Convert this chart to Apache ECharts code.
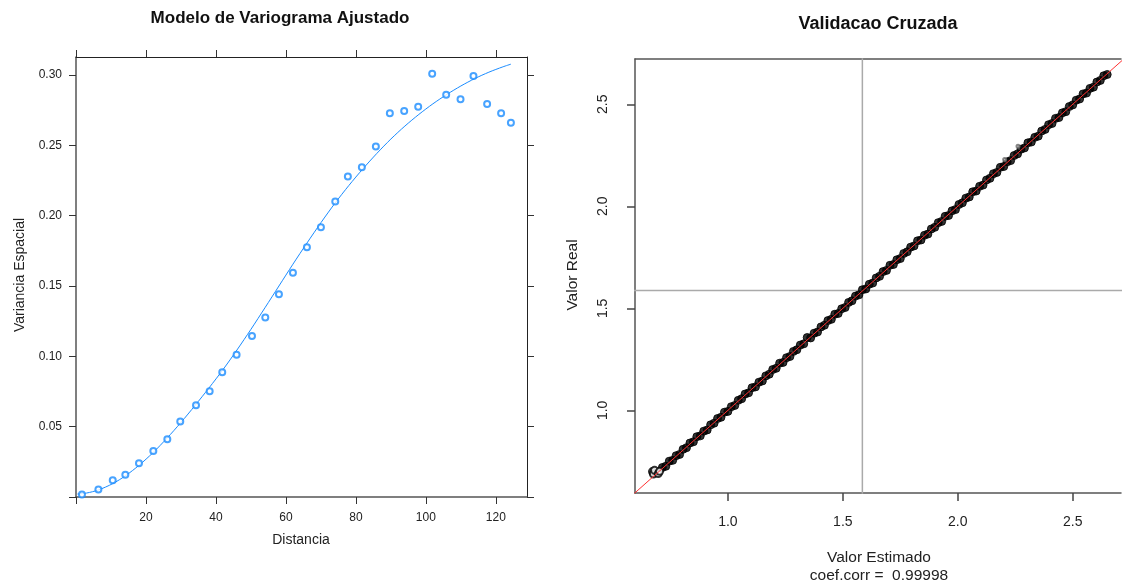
<!DOCTYPE html>
<html>
<head>
<meta charset="utf-8">
<script src="https://cdn.jsdelivr.net/npm/echarts@6/dist/echarts.min.js"></script>
<style>
  html, body { margin: 0; padding: 0; background: #fff; }
  #main { width: 1122px; height: 586px; }
</style>
</head>
<body>
<div id="main"></div>
<script>
// ---------- Left panel: experimental variogram ----------
const distances = [1.7, 6.4, 10.5, 14.1, 18.0, 22.1, 26.1, 29.8, 34.3, 38.2, 41.8, 45.9, 50.3, 54.1, 58.0,
  62.0, 66.0, 70.0, 74.1, 77.7, 81.7, 85.7, 89.7, 93.8, 97.8, 101.8, 105.8, 109.9, 113.6, 117.5, 121.5, 124.3];
const semivariance = [0.0017, 0.0053, 0.0119, 0.0159, 0.0240, 0.0327, 0.0410, 0.0536, 0.0652, 0.0751, 0.0886, 0.1011, 0.1144, 0.1276, 0.1442,
  0.1594, 0.1776, 0.1918, 0.2100, 0.2278, 0.2344, 0.2491, 0.2728, 0.2744, 0.2775, 0.3009, 0.2860, 0.2827, 0.2993, 0.2794, 0.2728, 0.2661];
// fitted model curve
const modelDist = [0.4, 3, 6.4, 10.5, 14.2, 18, 22, 26, 30, 34, 38, 42, 46, 50, 54, 58, 62, 66, 70, 74, 78, 82, 86, 90, 94, 98, 102, 106, 110, 114, 118, 122, 124.3];
const modelGamma = [0.0021, 0.0028, 0.0050, 0.0095, 0.0152, 0.0225, 0.0315, 0.0418, 0.0530, 0.0650, 0.0775, 0.0905, 0.1045, 0.1192, 0.1345, 0.1500, 0.1655, 0.1805, 0.1950, 0.2088, 0.2215, 0.2333, 0.2443, 0.2545, 0.2637, 0.2720, 0.2795, 0.2862, 0.2922, 0.2975, 0.3020, 0.3058, 0.3077];
const leftXTicks = [0, 20, 40, 60, 80, 100, 120];
const leftYTicks = [0, 0.05, 0.10, 0.15, 0.20, 0.25, 0.30];

// ---------- Right panel: cross validation ----------
const clusterEstimated = [0.672, 0.676, 0.681, 0.697, 0.703];
const clusterObserved = [0.700, 0.688, 0.706, 0.690, 0.701];
const estimated = [
  0.715, 0.730, 0.745, 0.760, 0.775, 0.790, 0.805, 0.820, 0.835, 0.850, 0.865, 0.880, 0.895, 0.910, 0.925, 0.940, 0.955, 0.970, 0.985, 1.000,
  1.015, 1.030, 1.045, 1.060, 1.075, 1.090, 1.105, 1.120, 1.135, 1.150, 1.165, 1.180, 1.195, 1.210, 1.225, 1.240, 1.255, 1.270, 1.285, 1.300,
  1.315, 1.330, 1.345, 1.360, 1.375, 1.390, 1.405, 1.420, 1.435, 1.450, 1.465, 1.480, 1.495, 1.510, 1.525, 1.540, 1.555, 1.570, 1.585, 1.600,
  1.615, 1.630, 1.645, 1.660, 1.675, 1.690, 1.705, 1.720, 1.735, 1.750, 1.765, 1.780, 1.795, 1.810, 1.825, 1.840, 1.855, 1.870, 1.885, 1.900,
  1.915, 1.930, 1.945, 1.960, 1.975, 1.990, 2.005, 2.020, 2.035, 2.050, 2.065, 2.080, 2.095, 2.110, 2.125, 2.140, 2.155, 2.170, 2.185, 2.200,
  2.215, 2.230, 2.245, 2.260, 2.275, 2.290, 2.305, 2.320, 2.335, 2.350, 2.365, 2.380, 2.395, 2.410, 2.425, 2.440, 2.455, 2.470, 2.485, 2.500,
  2.515, 2.530, 2.545, 2.560, 2.575, 2.590, 2.605, 2.620, 2.635, 2.650];
const observed = [
  0.720, 0.726, 0.751, 0.755, 0.778, 0.784, 0.809, 0.817, 0.840, 0.846, 0.871, 0.875, 0.898, 0.904, 0.929, 0.937, 0.960, 0.966, 0.991, 0.995,
  1.018, 1.024, 1.049, 1.057, 1.080, 1.086, 1.111, 1.115, 1.138, 1.144, 1.169, 1.177, 1.200, 1.206, 1.231, 1.235, 1.258, 1.264, 1.289, 1.297,
  1.320, 1.326, 1.357, 1.355, 1.378, 1.384, 1.409, 1.417, 1.440, 1.446, 1.471, 1.475, 1.498, 1.504, 1.529, 1.537, 1.560, 1.566, 1.591, 1.595,
  1.618, 1.624, 1.649, 1.657, 1.680, 1.686, 1.711, 1.715, 1.738, 1.744, 1.769, 1.777, 1.800, 1.806, 1.831, 1.835, 1.858, 1.864, 1.889, 1.897,
  1.920, 1.926, 1.951, 1.955, 1.978, 1.984, 2.009, 2.017, 2.040, 2.046, 2.071, 2.075, 2.098, 2.104, 2.129, 2.137, 2.160, 2.166, 2.191, 2.195,
  2.218, 2.224, 2.249, 2.257, 2.280, 2.286, 2.311, 2.315, 2.338, 2.344, 2.369, 2.377, 2.400, 2.406, 2.431, 2.435, 2.458, 2.464, 2.489, 2.497,
  2.520, 2.526, 2.551, 2.555, 2.578, 2.584, 2.609, 2.617, 2.640, 2.646];
const strayEstimated = [2.204, 2.262];
const strayObserved = [2.230, 2.294];
const meanEstimated = 1.585;
const meanObserved = 1.588;
const identityRange = [0.5, 3.0];
const rightTicks = [1.0, 1.5, 2.0, 2.5];

const FONT = "'Liberation Sans', Arial, sans-serif";
const zip = (a, b) => a.map((v, i) => [v, b[i]]);

const chart = echarts.init(document.getElementById('main'));
const axisLineMain = { show: true, onZero: false, lineStyle: { color: '#555', width: 1.5 } };
const axisLineOpp = { show: true, onZero: false, lineStyle: { color: '#222', width: 1 } };
const axisLineR = { show: true, onZero: false, lineStyle: { color: '#555', width: 1.5 } };

chart.setOption({
  animation: false,
  backgroundColor: '#fff',
  grid: [
    { left: 76, top: 57, width: 451, height: 440 },
    { left: 635, top: 59, width: 486, height: 434 }
  ],
  xAxis: [
    { gridIndex: 0, type: 'value', position: 'bottom', min: 0, max: 128.9,
      axisLine: axisLineMain, splitLine: { show: false },
      axisTick: { show: true, length: 7, customValues: leftXTicks, lineStyle: { color: '#333' } },
      axisLabel: { customValues: leftXTicks, margin: 15, fontSize: 12, color: '#222', fontFamily: FONT,
        formatter: v => (v === 0 ? '' : String(v)) } },
    { gridIndex: 0, type: 'value', position: 'top', min: 0, max: 128.9,
      axisLine: axisLineOpp, splitLine: { show: false },
      axisTick: { show: true, length: 7, customValues: leftXTicks, lineStyle: { color: '#333' } },
      axisLabel: { show: false } },
    { gridIndex: 1, type: 'value', position: 'bottom', min: 0.596, max: 2.71,
      axisLine: axisLineR, splitLine: { show: false },
      axisTick: { show: true, length: 8, customValues: rightTicks, lineStyle: { color: '#444', width: 1.5 } },
      axisLabel: { customValues: rightTicks, margin: 22, fontSize: 14, color: '#222', fontFamily: FONT,
        formatter: v => v.toFixed(1) } },
    { gridIndex: 1, type: 'value', position: 'top', min: 0.596, max: 2.71,
      axisLine: axisLineR, splitLine: { show: false },
      axisTick: { show: false }, axisLabel: { show: false } }
  ],
  yAxis: [
    { gridIndex: 0, type: 'value', position: 'left', min: 0, max: 0.3128,
      axisLine: axisLineMain, splitLine: { show: false },
      axisTick: { show: true, length: 7, customValues: leftYTicks, lineStyle: { color: '#333' } },
      axisLabel: { customValues: leftYTicks, margin: 14, fontSize: 12, color: '#222', fontFamily: FONT,
        formatter: v => (v === 0 ? '' : v.toFixed(2)) } },
    { gridIndex: 0, type: 'value', position: 'right', min: 0, max: 0.3128,
      axisLine: axisLineOpp, splitLine: { show: false },
      axisTick: { show: true, length: 7, customValues: leftYTicks, lineStyle: { color: '#333' } },
      axisLabel: { show: false } },
    { gridIndex: 1, type: 'value', position: 'left', min: 0.595, max: 2.722,
      axisLine: axisLineR, splitLine: { show: false },
      axisTick: { show: true, length: 8, customValues: rightTicks, lineStyle: { color: '#444', width: 1.5 } },
      axisLabel: { customValues: rightTicks, rotate: 90, margin: 25, fontSize: 14, color: '#222', fontFamily: FONT,
        formatter: v => v.toFixed(1) } }
  ],
  series: [
    { type: 'line', xAxisIndex: 0, yAxisIndex: 0, data: zip(modelDist, modelGamma),
      showSymbol: false, smooth: 0.3, lineStyle: { color: '#1a8cff', width: 1 }, silent: true, z: 2 },
    { type: 'scatter', xAxisIndex: 0, yAxisIndex: 0, data: zip(distances, semivariance),
      symbol: 'emptyCircle', symbolSize: 6,
      itemStyle: { color: '#1a8cff', borderColor: '#1a8cff', borderWidth: 1.2 }, z: 3 },

    { type: 'line', xAxisIndex: 2, yAxisIndex: 2, data: [[meanEstimated, identityRange[0]], [meanEstimated, identityRange[1]]],
      showSymbol: false, clip: true, lineStyle: { color: '#aaa', width: 1.5 }, silent: true, z: 1 },
    { type: 'line', xAxisIndex: 2, yAxisIndex: 2, data: [[identityRange[0], meanObserved], [identityRange[1], meanObserved]],
      showSymbol: false, clip: true, lineStyle: { color: '#aaa', width: 1.5 }, silent: true, z: 1 },
    { type: 'scatter', xAxisIndex: 2, yAxisIndex: 2, data: zip(estimated, observed),
      symbol: 'circle', symbolSize: 8,
      itemStyle: { color: '#000', borderColor: '#000', borderWidth: 1 }, z: 3 },
    { type: 'scatter', xAxisIndex: 2, yAxisIndex: 2, data: zip(clusterEstimated, clusterObserved),
      symbol: 'emptyCircle', symbolSize: 7,
      itemStyle: { color: '#000', borderColor: '#000', borderWidth: 1.5 }, z: 3 },
    { type: 'scatter', xAxisIndex: 2, yAxisIndex: 2, data: zip(strayEstimated, strayObserved),
      symbol: 'emptyCircle', symbolSize: 3,
      itemStyle: { color: '#666', borderColor: '#666', borderWidth: 1 }, z: 3 },
    { type: 'line', xAxisIndex: 2, yAxisIndex: 2, data: [[identityRange[0], identityRange[0]], [identityRange[1], identityRange[1]]],
      showSymbol: false, clip: true, lineStyle: { color: '#ff3030', width: 1 }, silent: true, z: 4 }
  ],
  graphic: [
    { type: 'text', x: 280, y: 18, style: { text: 'Modelo de Variograma Ajustado', fontSize: 17, fontWeight: 'bold', fontFamily: FONT, fill: '#111', align: 'center', verticalAlign: 'middle' } },
    { type: 'text', x: 301, y: 540, style: { text: 'Distancia', fontSize: 14, fontFamily: FONT, fill: '#222', align: 'center', verticalAlign: 'middle' } },
    { type: 'text', x: 20, y: 275, rotation: Math.PI / 2, style: { text: 'Variancia Espacial', fontSize: 14, fontFamily: FONT, fill: '#222', align: 'center', verticalAlign: 'middle' } },
    { type: 'text', x: 878, y: 24, style: { text: 'Validacao Cruzada', fontSize: 18, fontWeight: 'bold', fontFamily: FONT, fill: '#111', align: 'center', verticalAlign: 'middle' } },
    { type: 'text', x: 573, y: 275, rotation: Math.PI / 2, style: { text: 'Valor Real', fontSize: 15.5, fontFamily: FONT, fill: '#222', align: 'center', verticalAlign: 'middle' } },
    { type: 'text', x: 879, y: 558, style: { text: 'Valor Estimado', fontSize: 15.5, fontFamily: FONT, fill: '#222', align: 'center', verticalAlign: 'middle' } },
    { type: 'text', x: 879, y: 576, style: { text: 'coef.corr =  0.99998', fontSize: 15.5, fontFamily: FONT, fill: '#222', align: 'center', verticalAlign: 'middle' } }
  ]
});
</script>
</body>
</html>
